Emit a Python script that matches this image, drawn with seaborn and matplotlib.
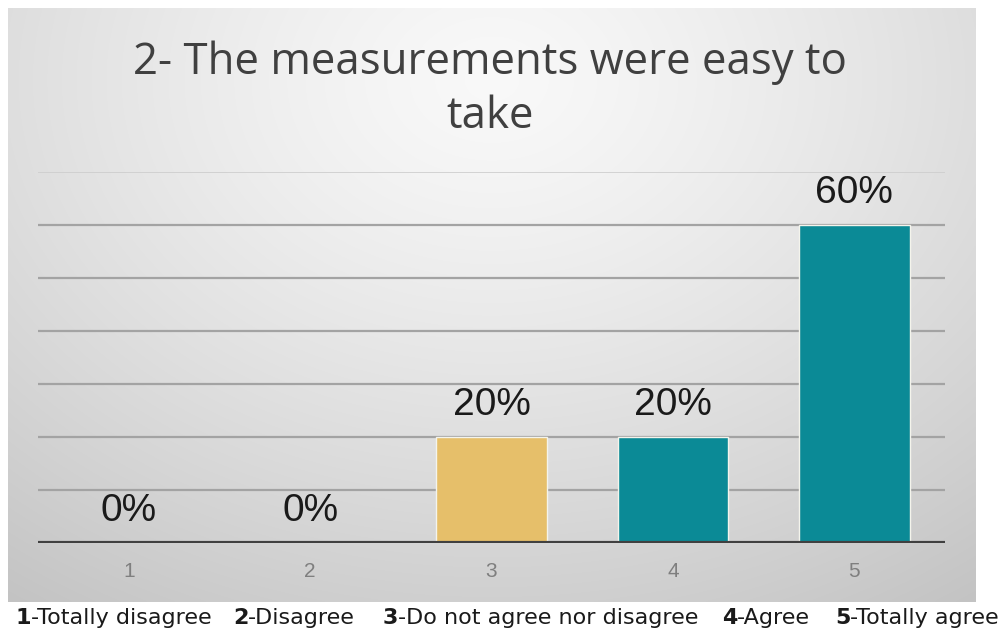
import numpy as np
import pandas as pd
import matplotlib
matplotlib.use("Agg")
import matplotlib.pyplot as plt
import seaborn as sns

# Survey responses for question 2
categories = ["1", "2", "3", "4", "5"]
shares = [0, 0, 20, 20, 60]
bar_colors = ["#0B8A96", "#0B8A96", "#E6BF6A", "#0B8A96", "#0B8A96"]
title_lines = ["2- The measurements were easy to", "take"]
scale_keys = ["1", "2", "3", "4", "5"]
scale_texts = ["-Totally disagree", "-Disagree", "-Do not agree nor disagree", "-Agree", "-Totally agree"]

sns.set_theme(style="white")
plt.rcParams["font.family"] = ["Liberation Sans", "DejaVu Sans"]

W, H = 1003, 632
fig = plt.figure(figsize=(W / 100, H / 100), dpi=100)
fig.patch.set_facecolor("white")

# Gradient panel behind the chart
px0, px1, py0, py1 = 8, 976, 8, 602
bg = fig.add_axes([px0 / W, 1 - py1 / H, (px1 - px0) / W, (py1 - py0) / H])
gx, gy = np.meshgrid(np.linspace(0, 1, 400), np.linspace(0, 1, 300))
cx, cy = 0.50, 0.12
r = np.sqrt(((gx - cx) / 0.8) ** 2 + ((gy - cy) / 1.0) ** 2)
shade = 0.975 - 0.19 * np.clip(r, 0, 1.2) ** 1.3
bg.imshow(np.dstack([shade] * 3), aspect="auto", extent=(0, 1, 1, 0), interpolation="bilinear")
bg.set_axis_off()

# Plot area
ax = fig.add_axes([38 / W, 1 - 543 / H, (945 - 38) / W, (543 - 172) / H])
ax.patch.set_alpha(0)
df = pd.DataFrame({"cat": categories, "share": shares})
sns.barplot(data=df, x="cat", y="share", hue="cat", palette=bar_colors, order=categories,
            hue_order=categories, legend=False, width=0.61, saturation=1, ax=ax, zorder=3,
            edgecolor="#F4F4EC", linewidth=1)
ax.set_xlim(-0.5, 4.5)
ax.set_ylim(0, 70)
for yv in range(10, 61, 10):
    ax.axhline(yv, color="#A3A3A3", lw=1.6, zorder=1)
ax.axhline(70, color="#CDCDCD", lw=1.2, zorder=1)
ax.axhline(0, color="#404040", lw=3, zorder=4)
for s in ax.spines.values():
    s.set_visible(False)
ax.set_yticks([])
ax.set_xlabel("")
ax.set_ylabel("")
ax.tick_params(axis="x", length=0, pad=14, labelsize=15, labelcolor="#7F7F7F")

for i, v in enumerate(shares):
    ax.annotate(f"{v}%", xy=(i, v), xytext=(0, 10), textcoords="offset points",
                ha="center", va="bottom", fontsize=28, color="#1A1A1A", zorder=5)

# Title
title_font = ["Open Sans", "DejaVu Sans"]
fig.text(490 / W, 1 - 74 / H, title_lines[0], ha="center", va="baseline",
         fontsize=31.5, color="#404040", family=title_font)
fig.text(490 / W, 1 - 128 / H, title_lines[1], ha="center", va="baseline",
         fontsize=31.5, color="#404040", family=title_font)

# Scale legend under the panel
cap_font = ["DejaVu Sans"]
starts = [16, 233, 383, 722, 835]
for x0, k, t in zip(starts, scale_keys, scale_texts):
    kt = fig.text(x0 / W, 1 - 624 / H, k, ha="left", va="baseline", fontsize=16,
                  fontweight="bold", color="#1A1A1A", family=cap_font)
    ax.annotate(t, xy=(1, 0), xycoords=kt, xytext=(0, 0), textcoords="offset points",
                ha="left", va="bottom", fontsize=16, color="#1A1A1A",
                family=cap_font, annotation_clip=False)

fig.savefig("out.png", dpi=100)
